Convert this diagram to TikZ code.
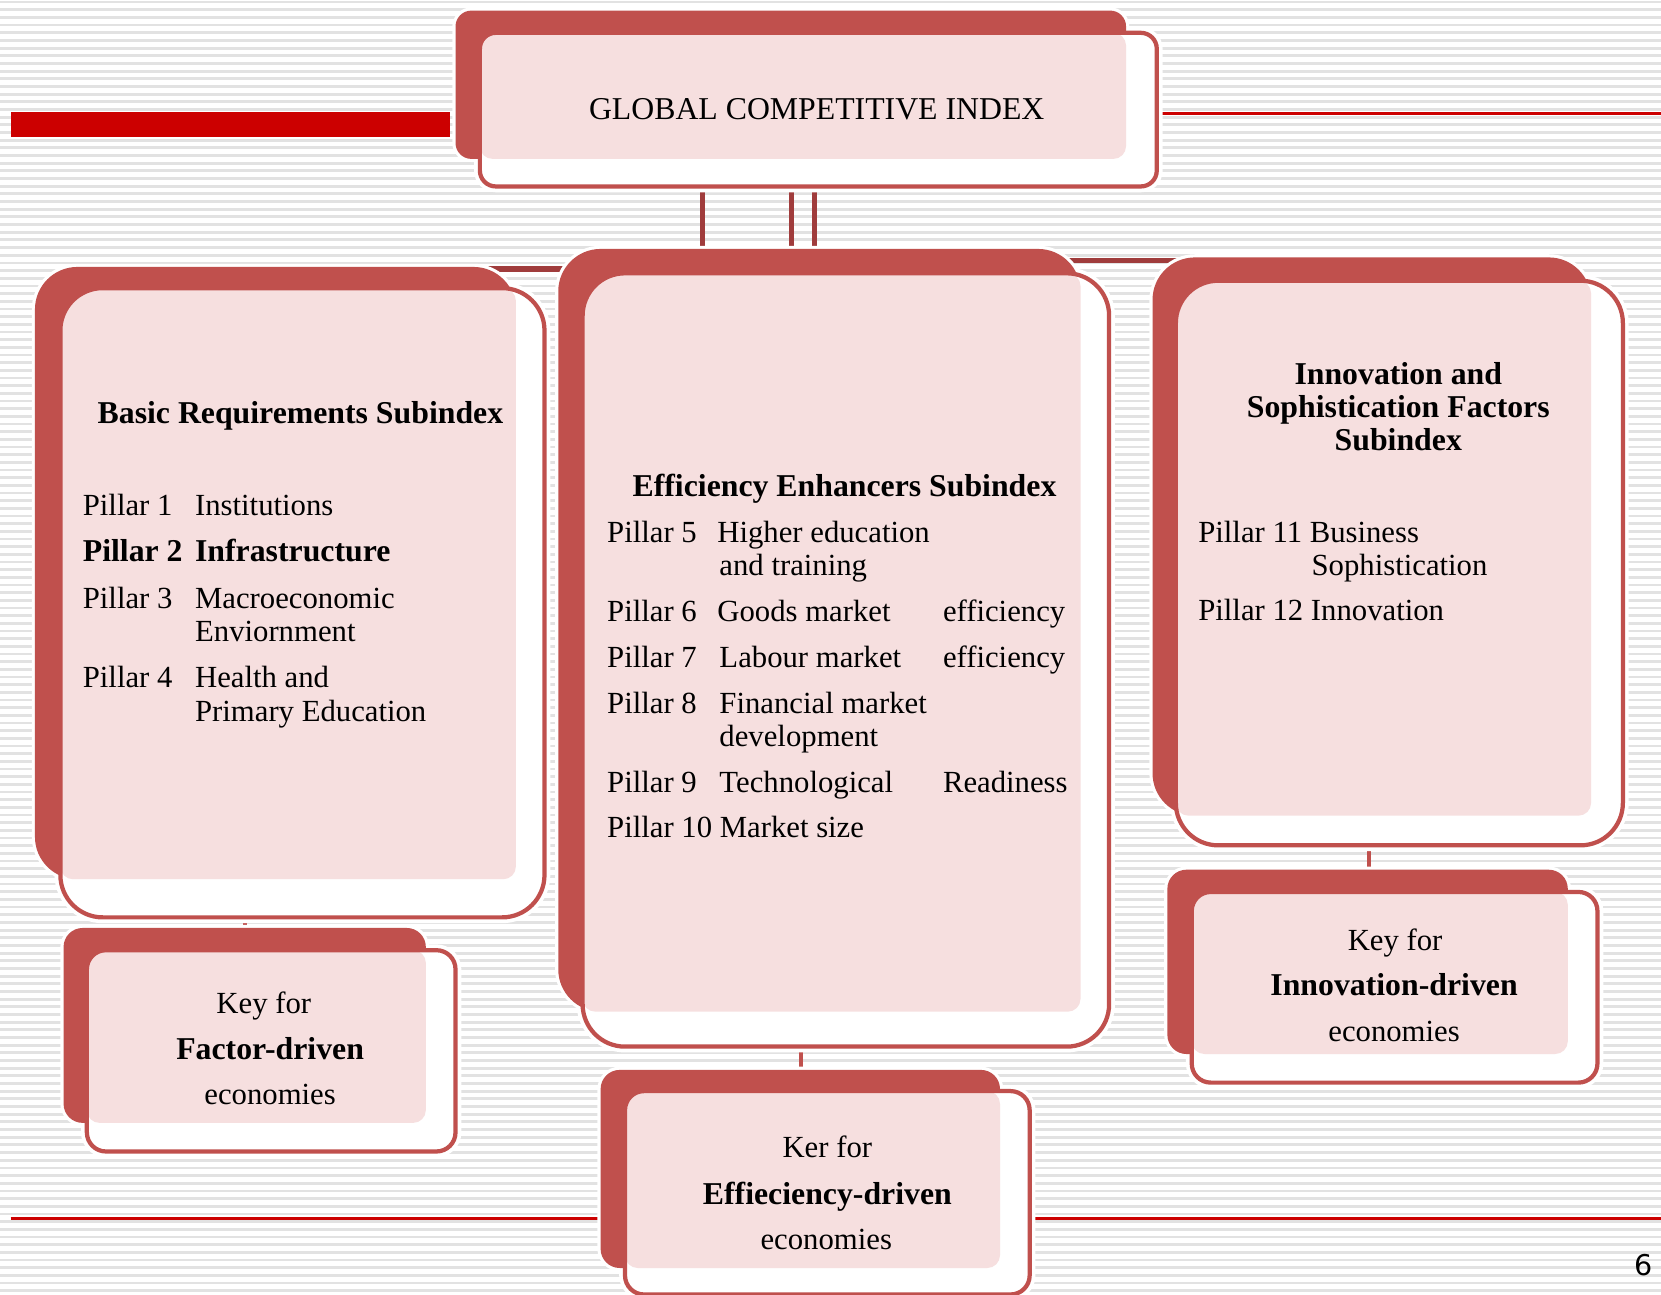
\documentclass[tikz,border=0pt]{standalone}
\usepackage{fontspec}
\setmainfont{Liberation Serif}
\newfontfamily\pagenofont{DejaVu Sans}
\usetikzlibrary{fit}
\definecolor{boxred}{RGB}{192,80,77}
\definecolor{linkred}{RGB}{160,60,60}
\definecolor{pinkfill}{RGB}{246,223,223}
\definecolor{stripe}{RGB}{226,226,226}
\definecolor{barred}{RGB}{204,0,0}
\def\rr{40pt}
\newcommand{\panel}[9]{%
  \draw[white, line width=6pt, rounded corners=\rr] (#2,#3) rectangle (#4,#5);
  \draw[white, line width=11pt, rounded corners=\rr] (#6,#7) rectangle (#8,#9);
  \fill[boxred, rounded corners=\rr] (#2,#3) rectangle (#4,#5);
  \fill[white, rounded corners=\rr] (#6,#7) rectangle (#8,#9);
  \begin{scope}
    \clip[rounded corners=\rr] (#6,#7) rectangle (#8,#9);
    \fill[pinkfill, rounded corners=12pt] (#6,#7) rectangle (#4,#5);
  \end{scope}
  \node[draw=boxred, line width=4pt, rounded corners=\rr, inner sep=0pt,
        fit={(#6,#7)(#8,#9)}] (#1) {};
}
\tikzset{
  conn/.style={draw=linkred, line width=5pt},
  keyconn/.style={draw=boxred, line width=4pt},
  txt/.style={anchor=base west, inner sep=0pt, font=\fontsize{29}{32}\selectfont},
  btxt/.style={anchor=base west, inner sep=0pt, font=\fontsize{30}{32}\selectfont\bfseries},
  ctxt/.style={anchor=base, inner sep=0pt, font=\fontsize{29}{32}\selectfont},
  cbtxt/.style={anchor=base, inner sep=0pt, font=\fontsize{30}{32}\selectfont\bfseries}
}
\begin{document}
\begin{tikzpicture}[x=1pt,y=-1pt]
\useasboundingbox (0,0) rectangle (1568,1222);
% background
\fill[white] (0,0) rectangle (1568,1222);
\foreach \i in {0,...,169} {
  \draw[stripe, line width=2.6pt] (0,{\i*7.24+2}) -- (1568,{\i*7.24+2});
}
% decorative red bars
\fill[barred] (10,105.5) rectangle (425,129);
\draw[barred, line width=2.5pt] (1000,107) -- (1568,107);
\draw[barred, line width=2.5pt] (10,1150) -- (1568,1150);

% front box nodes are defined by \panel; connectors need them, so place coordinates
\coordinate (xl) at (663,0);
\coordinate (xm) at (747,0);
\coordinate (xr) at (769,0);
\coordinate (hl) at (0,254);
\coordinate (hr) at (0,246);
\coordinate (kl) at (231,0);
\coordinate (km) at (756,0);
\coordinate (kr) at (1292,0);
% invisible placeholders for connector ends (same rectangles as the panels)
\node[inner sep=0pt, fit={(453,31)(1092,176)}] (gci0) {};
\node[inner sep=0pt, fit={(57,272)(514,866)}] (basic0) {};
\node[inner sep=0pt, fit={(550,258)(1047,988)}] (eff0) {};
\node[inner sep=0pt, fit={(1110,265)(1532,798)}] (innov0) {};
\node[inner sep=0pt, fit={(82,897)(430,1087)}] (kf0) {};
\node[inner sep=0pt, fit={(590,1030)(972,1222)}] (ke0) {};
\node[inner sep=0pt, fit={(1125,842)(1508,1022)}] (ki0) {};

% connectors (behind boxes)
\draw[conn] (gci0.south -| xl) |- (hl -| basic0.north) -- (basic0.north);
\draw[conn] (gci0.south -| xm) -- (eff0.north -| xm);
\draw[conn] (gci0.south -| xr) |- (hr -| innov0.north) -- (innov0.north);
\draw[keyconn] (basic0.south -| kl) -- (kf0.north -| kl);
\draw[keyconn] (eff0.south -| km) -- (ke0.north -| km);
\draw[keyconn] (innov0.south -| kr) -- (ki0.north -| kr);

% panels
\def\rr{15pt}
\panel{gci}{430}{10}{1063}{150}{453}{31}{1092}{176}
\def\rr{40pt}
\panel{basic}{33}{252}{487}{830}{57}{272}{514}{866}
\panel{eff}{527}{235}{1020}{955}{550}{258}{1047}{988}
\panel{innov}{1088}{243}{1502}{770}{1110}{265}{1532}{798}
\def\rr{18pt}
\panel{kf}{60}{876}{402}{1060}{82}{897}{430}{1087}
\panel{ki}{1102}{821}{1480}{995}{1125}{842}{1508}{1022}
\panel{ke}{567}{1010}{944}{1197}{590}{1030}{972}{1222}

% texts
\node[ctxt, font=\fontsize{30}{32}\selectfont] (gcit) at (771,113) {GLOBAL COMPETITIVE INDEX};

\node[btxt] (brt) at (92,400) {Basic Requirements Subindex};
\node[txt] (p1a) at (78,487) {Pillar 1};
\node[txt] (p1b) at (184,487) {Institutions};
\node[btxt] (p2a) at (78,530) {Pillar 2};
\node[btxt] (p2b) at (184,530) {Infrastructure};
\node[txt] (p3a) at (78,574) {Pillar 3};
\node[txt] (p3b) at (184,574) {Macroeconomic};
\node[txt] (p3c) at (184,606) {Enviornment};
\node[txt] (p4a) at (78,649) {Pillar 4};
\node[txt] (p4b) at (184,649) {Health and};
\node[txt] (p4c) at (184,681) {Primary Education};

\node[btxt] (eet) at (597,469) {Efficiency Enhancers Subindex};
\node[txt] (p5a) at (573,512) {Pillar 5};
\node[txt] (p5b) at (677,512) {Higher education};
\node[txt] (p5c) at (679,543) {and training};
\node[txt] (p6a) at (573,587) {Pillar 6};
\node[txt] (p6b) at (677,587) {Goods market};
\node[txt] (p6c) at (890,587) {efficiency};
\node[txt] (p7a) at (573,630) {Pillar 7};
\node[txt] (p7b) at (679,630) {Labour market};
\node[txt] (p7c) at (890,630) {efficiency};
\node[txt] (p8a) at (573,674) {Pillar 8};
\node[txt] (p8b) at (679,674) {Financial market};
\node[txt] (p8c) at (679,705) {development};
\node[txt] (p9a) at (573,748) {Pillar 9};
\node[txt] (p9b) at (679,748) {Technological};
\node[txt] (p9c) at (890,748) {Readiness};
\node[txt] (p10) at (573,791) {Pillar 10 Market size};

\node[cbtxt] (ist1) at (1320,363) {Innovation and};
\node[cbtxt] (ist2) at (1320,394) {Sophistication Factors};
\node[cbtxt] (ist3) at (1320,425) {Subindex};
\node[txt] (p11a) at (1131,512) {Pillar 11 Business};
\node[txt] (p11b) at (1238,543) {Sophistication};
\node[txt] (p12) at (1131,586) {Pillar 12 Innovation};

\node[ctxt] (kf1) at (249,957) {Key for};
\node[cbtxt] (kf2) at (255,1000) {Factor-driven};
\node[ctxt] (kf3) at (255,1043) {economies};

\node[ctxt] (ke1) at (781,1093) {Ker for};
\node[cbtxt] (ke2) at (781,1137) {Effieciency-driven};
\node[ctxt] (ke3) at (780,1180) {economies};

\node[ctxt] (ki1) at (1317,897) {Key for};
\node[cbtxt] (ki2) at (1316,940) {Innovation-driven};
\node[ctxt] (ki3) at (1316,983) {economies};

\node[anchor=base, inner sep=0pt, font=\pagenofont\fontsize{27}{30}\selectfont] (pageno) at (1552,1204) {6};
\end{tikzpicture}
\end{document}
